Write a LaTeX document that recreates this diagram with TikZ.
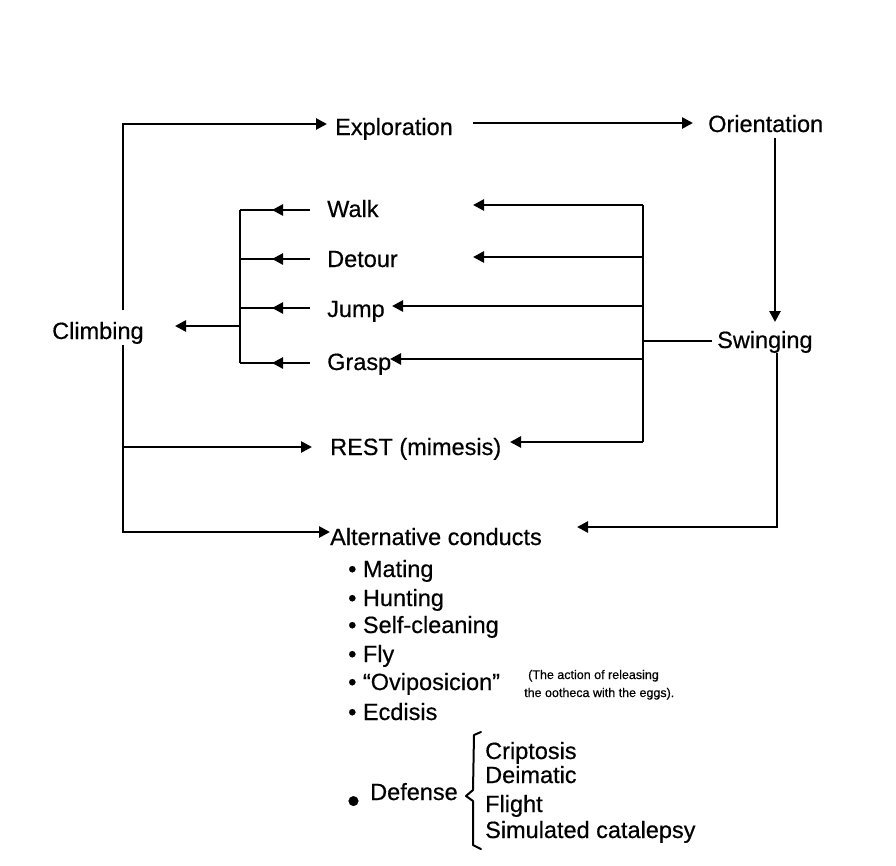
\documentclass[tikz,border=0pt]{standalone}
\usepackage{fontspec}
\setmainfont[FakeBold=0.5]{Liberation Sans}
\usetikzlibrary{arrows.meta}
\begin{document}
\begin{tikzpicture}[x=1pt,y=-1pt,
  lbl/.style={anchor=base west,inner sep=0pt,font=\fontsize{23.5}{27}\selectfont},
  note/.style={anchor=base west,inner sep=0pt,font=\fontsize{12.5}{14}\selectfont},
  ln/.style={line width=2.6pt},
  arr/.style={line width=2.6pt,-{Triangle[length=11pt,width=11pt]}}]
\useasboundingbox[fill=white] (0,0) rectangle (896,865);

% main labels
\node[lbl] (expl) at (335,135) {Exploration};
\node[lbl] (orient) at (708,132) {Orientation};
\node[lbl] (swing) at (717,348) {Swinging};
\node[lbl] (climb) at (52,339) {Climbing};
\node[lbl] (walk) at (327,217) {Walk};
\node[lbl] (detour) at (327,267) {Detour};
\node[lbl] (jump) at (327,317) {Jump};
\node[lbl] (grasp) at (327,370) {Grasp};
\node[lbl] (rest) at (330,455) {REST (mimesis)};
\node[lbl] (alt) at (330,545) {Alternative conducts};

% list
\node[lbl] (mating) at (348,577) {• Mating};
\node[lbl] (hunting) at (348,606) {• Hunting};
\node[lbl] (selfc) at (348,633) {• Self-cleaning};
\node[lbl] (fly) at (348,662) {• Fly};
\node[lbl] (ovi) at (348,690) {• “Oviposicion”};
\node[lbl] (ecd) at (348,720) {• Ecdisis};
\node[note] (note1) at (528,679) {(The action of releasing};
\node[note] (note2) at (524,697) {the ootheca with the eggs).};
\node[lbl,font=\fontsize{36}{38}\selectfont] (dbul) at (347,813) {•};
\node[lbl] (defense) at (370,800) {Defense};
\node[lbl] (cript) at (485,759) {Criptosis};
\node[lbl] (deim) at (485,783) {Deimatic};
\node[lbl] (flight) at (485,812) {Flight};
\node[lbl] (simcat) at (485,838) {Simulated catalepsy};

% junction coordinates
\coordinate (clTop) at (123,310);
\coordinate (clBot) at (123,345);
\coordinate (exIn) at (327,124);
\coordinate (exOut) at (473,123);
\coordinate (orIn) at (693,123);
\coordinate (orOut) at (775,138);
\coordinate (swIn) at (775,322);
\coordinate (swOut) at (777,353);
\coordinate (altInR) at (577,527);
\coordinate (altInL) at (330,532);
\coordinate (restIn) at (312,447);
\coordinate (swL) at (712,341);
\coordinate (busR) at (643,341);
\coordinate (busRtop) at (643,205);
\coordinate (busRbot) at (643,442);
\coordinate (walkR) at (473,205);
\coordinate (detourR) at (473,257);
\coordinate (jumpR) at (392,306);
\coordinate (graspR) at (390,359);
\coordinate (restR) at (510,442);
\coordinate (busLtop) at (240,210);
\coordinate (busLbot) at (240,363);
\coordinate (climbIn) at (175,326);

% top loop
\draw[arr] (clTop) |- (exIn);
\draw[arr] (exOut) -- (orIn);
\draw[arr] (orOut) -- (swIn);
\draw[arr] (swOut) |- (altInR);
\draw[arr] (clBot) |- (altInL);
\draw[arr] (clBot |- restIn) -- (restIn);

% right bus
\draw[line width=1.8pt] (swL) -- (busR);
\draw[ln] (busRtop) -- (busRbot);
\draw[arr] (busRtop) -- (walkR);
\draw[arr] (busRtop |- detourR) -- (detourR);
\draw[arr] (busRtop |- jumpR) -- (jumpR);
\draw[arr] (busRtop |- graspR) -- (graspR);
\draw[arr] (busRbot) -- (restR);

% left bus
\draw[ln] (busLtop) -- (busLbot);
\foreach \yy in {210,259,308,363}{
  \draw[ln] (240,\yy) -- (275,\yy);
  \draw[arr] (310,\yy) -- (272,\yy);
}
\draw[arr] (busLtop |- climbIn) -- (climbIn);

% defense bracket
\draw[line width=2pt,line join=round,line cap=round]
  (481,732) -- (474,735) -- (473,790) -- (466,796) -- (473,801) -- (473,845) -- (481,849);
\end{tikzpicture}
\end{document}
